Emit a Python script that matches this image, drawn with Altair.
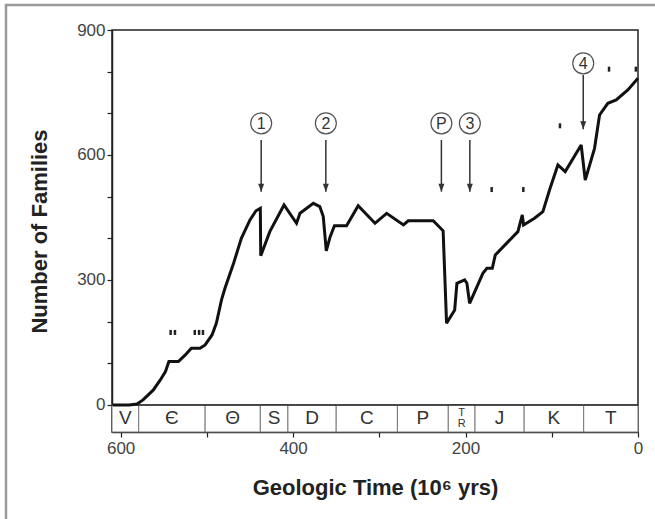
import altair as alt
import pandas as pd

# ---------------- data ----------------
ages = [609, 590, 581, 574, 562, 554, 548, 544, 533, 525, 518, 508, 502, 494, 489,
        483, 479, 469, 460, 450, 443, 438, 437.5, 427, 410.5, 396, 392, 376.5, 369,
        365, 361.5, 357, 352, 338, 324.5, 305, 291.5, 272, 266.5, 237.5, 226, 222,
        212.6, 210, 201, 198.4, 195.3, 179.9, 175.2, 169, 165.5, 139.3, 134.2, 132.7,
        120, 110.3, 102.6, 92.9, 84.4, 65.9, 61.2, 50.4, 44.6, 35, 25.3, 11.8, 0]
families = [0, 0, 2, 12, 36, 60, 80, 104, 104, 120, 136, 136, 144, 168, 196,
            252, 280, 340, 400, 444, 466, 472, 358, 416, 480, 436, 460, 484, 476,
            452, 370, 404, 430, 430, 478, 436, 460, 432, 442, 442, 418, 196,
            228, 292, 300, 292, 244, 316, 328, 328, 360, 416, 456, 432,
            448, 464, 516, 576, 560, 624, 540, 616, 696, 724, 732, 756, 784]

period_labels = ["V", "Є", "Θ", "S", "D", "C", "P", "Tr", "J", "K", "T"]
period_start = [610, 579, 502, 438, 406, 350, 279, 220, 189, 132, 63]
period_end = [579, 502, 438, 406, 350, 279, 220, 189, 132, 63, 0]

dash_ages = [542, 537, 514, 509, 504.5, 169.7, 133, 90.5, 33.6, 2.5]
dash_values = [174, 174, 174, 174, 174, 517, 517, 670, 806, 806]

event_labels = ["1", "2", "P", "3", "4"]
event_ages = [437, 362, 228, 195, 63.5]
event_circle = [676, 676, 676, 676, 820]
event_arrow_top = [636, 636, 636, 636, 792]
event_arrow_tip = [512, 512, 512, 512, 662]

x_ticks = [0, 100, 200, 300, 400, 500, 600]
y_ticks = [0, 100, 200, 300, 400, 500, 600, 700, 800, 900]

# ---------------- tables ----------------
curve = pd.DataFrame({"age": ages, "value": families})
periods = pd.DataFrame({"label": period_labels, "start": period_start, "end": period_end})
periods["mid"] = (periods["start"] + periods["end"]) / 2
periods["top"] = 0
periods["bottom"] = -65
periods["center"] = -32.5
dashes = pd.DataFrame({"age": dash_ages, "value": dash_values})
events = pd.DataFrame({"label": event_labels, "age": event_ages, "circle": event_circle,
                       "top": event_arrow_top, "tip": event_arrow_tip})

FONT = "Liberation Sans"

xscale = alt.Scale(domain=[0, 610], reverse=True, nice=False, zero=False)
yscale = alt.Scale(domain=[-65, 900], nice=False, zero=False)

xaxis = alt.Axis(values=x_ticks, labelExpr="datum.value % 200 == 0 ? datum.label : ''",
                 title="Geologic Time (10⁶ yrs)", grid=False,
                 domainColor="#222", domainWidth=1.5, tickColor="#222", tickWidth=1.2,
                 tickSize=5, labelFont=FONT, labelFontSize=17, labelColor="#444",
                 labelPadding=3, labelFlush=False, labelOverlap=False,
                 titleFont=FONT, titleFontSize=22, titleFontWeight="bold", titleColor="#222",
                 titleBaseline="alphabetic", titleY=62)
yaxis = alt.Axis(values=y_ticks, labelExpr="datum.value % 300 == 0 ? datum.label : ''",
                 title="Number of Families", grid=False,
                 domainColor="#222", domainWidth=1.5, tickColor="#222", tickWidth=1.2,
                 tickSize=5, labelFont=FONT, labelFontSize=17, labelColor="#444",
                 labelPadding=2, labelOverlap=False,
                 titleFont=FONT, titleFontSize=22, titleFontWeight="bold", titleColor="#222",
                 titleAngle=270, titleBaseline="alphabetic", titleAlign="center",
                 titleX=-66, titleY=201)


def X(field):
    return alt.X(field, type="quantitative", scale=xscale, axis=xaxis)


def Y(field):
    return alt.Y(field, type="quantitative", scale=yscale, axis=yaxis)


band = alt.Chart(periods).mark_rect(fill="white", stroke="#777", strokeWidth=1).encode(
    x=X("start"), x2="end", y=Y("top"), y2="bottom")

band_top = alt.Chart(periods).mark_rule(color="#222", strokeWidth=1.5).encode(
    x=X("start"), x2="end", y=Y("top"))

band_text = alt.Chart(periods).transform_filter("datum.label != 'Tr'").mark_text(
    font=FONT, fontSize=19, color="#333", baseline="middle", align="center").encode(
    x=X("mid"), y=Y("center"), text="label")

# Triassic symbol: T stacked over R, drawn as one two-line text
tr_sym = alt.Chart(periods).transform_filter("datum.label == 'Tr'").transform_calculate(
    sym="['T', 'R']").mark_text(
    font=FONT, fontSize=11, lineHeight=11, color="#333", baseline="middle", align="center",
    dy=-5).encode(
    x=X("mid"), y=Y("center"), text="sym:N")

line = alt.Chart(curve).mark_line(color="#111", strokeWidth=3, strokeJoin="miter",
                                  strokeMiterLimit=3).encode(
    x=alt.X("age", type="quantitative", scale=xscale, axis=xaxis, sort=None), y=Y("value"))

ticks = alt.Chart(dashes).mark_tick(orient="vertical", size=5, thickness=2.5,
                                    color="#222", opacity=1).encode(x=X("age"), y=Y("value"))

arrows = alt.Chart(events).mark_rule(color="#333", strokeWidth=1.5).encode(
    x=X("age"), y=Y("top"), y2="tip")
heads = alt.Chart(events).mark_point(shape="M-0.75,-1L0.75,-1L0,1Z", size=64, filled=True,
                                     color="#333", opacity=1, yOffset=-4).encode(
    x=X("age"), y=Y("tip"))
circles = alt.Chart(events).mark_point(shape="circle", size=440, filled=True, fill="white",
                                       stroke="#555", strokeWidth=1.2, opacity=1).encode(
    x=X("age"), y=Y("circle"))
circle_text = alt.Chart(events).mark_text(font=FONT, fontSize=16, color="#333",
                                          baseline="middle", align="center", dy=1).encode(
    x=X("age"), y=Y("circle"), text="label")

frame_src = pd.DataFrame({"k": [0]})
frame_left = alt.Chart(frame_src).mark_rule(color="#9a9a9a", strokeWidth=2.5).encode(
    x=alt.value(-106), y=alt.value(-26), y2=alt.value(500))
frame_top = alt.Chart(frame_src).mark_rule(color="#9a9a9a", strokeWidth=2.5).encode(
    x=alt.value(-107), x2=alt.value(560), y=alt.value(-25))

chart = alt.layer(band, band_top, band_text, tr_sym, line, ticks, arrows, heads,
                  circles, circle_text, frame_left, frame_top).properties(
    width=526, height=402,
    autosize=alt.AutoSizeParams(type="none"),
    padding={"left": 112, "top": 30, "right": 17, "bottom": 87},
    background="white",
).configure_view(stroke="#222", strokeWidth=1.5)

chart.save("out.html", embed_options={"renderer": "svg", "actions": False})
